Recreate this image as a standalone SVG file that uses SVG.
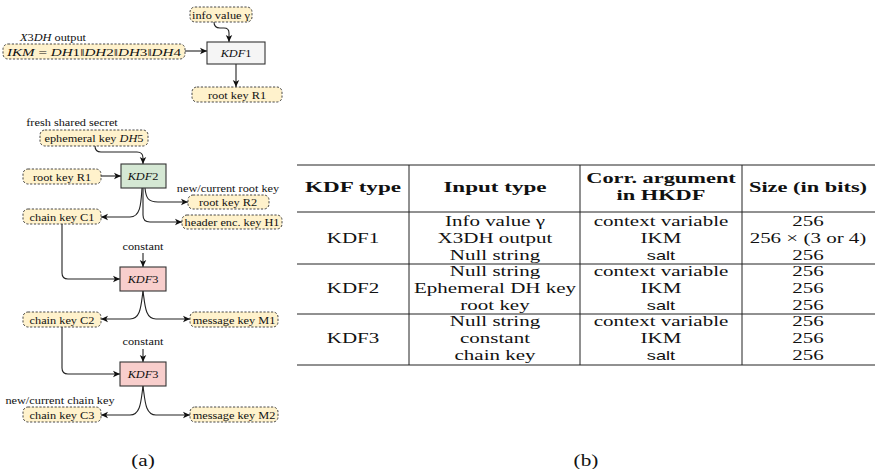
<svg xmlns="http://www.w3.org/2000/svg" width="875" height="469" viewBox="0 0 875 469">
<style>
.bg{fill:#ffffff}
.key{fill:#fff2cc;stroke:#333;stroke-width:0.9;stroke-dasharray:2.2 1.6}
.kdf{stroke:#333;stroke-width:1.1}
.k1{fill:#f5f5f5}
.k2{fill:#d5e8d4}
.k3{fill:#f8cecc}
.t{font-family:"Liberation Serif","Times New Roman",serif;font-size:11px;fill:#111;text-anchor:middle}
.tt{font-family:"Liberation Serif","Times New Roman",serif;font-size:14px;fill:#111;text-anchor:middle}
.th{font-family:"Liberation Serif","Times New Roman",serif;font-size:14px;font-weight:bold;fill:#111;text-anchor:middle}
.ss{font-family:"Liberation Sans",Arial,sans-serif;font-size:13px;fill:#111;text-anchor:middle}
.cap{font-family:"Liberation Serif","Times New Roman",serif;font-size:17px;fill:#111;text-anchor:middle}
.it{font-style:italic}
.c{fill:none;stroke:#222;stroke-width:1.1;marker-end:url(#ah)}
.rule{stroke:#222;stroke-width:1}
</style>
<defs>
<marker id="ah" markerUnits="userSpaceOnUse" markerWidth="8" markerHeight="8" refX="7" refY="4" orient="auto">
<path d="M0,0.8 L7,4 L0,7.2 L1.8,4 z" fill="#111"/>
</marker>
</defs>
<rect class="bg" x="0" y="0" width="875" height="469"/>

<g id="connectors">
<path class="c" d="M214,22 Q214,28 220,28 L224,28 Q229,28 229,33 L229,42"/>
<path class="c" d="M185,51 L207,51"/>
<path class="c" d="M236,64 L236,87"/>
<path class="c" d="M95,146 Q95,152 101,152 L137,152 Q143,152 143,158 L143,164"/>
<path class="c" d="M101,176 L121,176"/>
<path class="c" d="M142,188 C141,202 141,217 130,217 L101,217"/>
<path class="c" d="M143,188 L143,215 Q143,222 150,222 L182,222"/>
<path class="c" d="M145,188 C146,198 148,202 158,202 L188,202"/>
<path class="c" d="M62,224 L62,273 Q62,279 68,279 L120,279"/>
<path class="c" d="M143,253 L143,267"/>
<path class="c" d="M143,291 C141,305 141,319 130,319 L101,319"/>
<path class="c" d="M143,291 C145,305 145,319 156,319 L190,319"/>
<path class="c" d="M62,327 L62,368 Q62,374 68,374 L120,374"/>
<path class="c" d="M143,349 L143,362"/>
<path class="c" d="M143,386 C141,400 141,415 130,415 L101,415"/>
<path class="c" d="M143,386 C145,400 145,415 156,415 L190,415"/>
</g>

<g id="info">
<rect class="key" x="190" y="7" width="62" height="15" rx="5"/>
<text class="t" transform="translate(221,18.5) scale(1.12,1)">info value γ</text>
</g>
<g id="x3dh-label">
<text class="t" transform="translate(53,41) scale(1.12,1)"><tspan class="it">X</tspan>3<tspan class="it">DH</tspan> output</text>
</g>
<g id="ikm">
<rect class="key" x="3" y="44" width="182" height="15" rx="5"/>
<text class="t" x="94" y="55.5" textLength="174" lengthAdjust="spacingAndGlyphs"><tspan class="it">IKM</tspan> = <tspan class="it">DH</tspan>1‖<tspan class="it">DH</tspan>2‖<tspan class="it">DH</tspan>3‖<tspan class="it">DH</tspan>4</text>
</g>
<g id="kdf1">
<rect class="kdf k1" x="207" y="42" width="58" height="22"/>
<text class="t" transform="translate(236,57) scale(1.12,1)"><tspan class="it">KDF</tspan>1</text>
</g>
<g id="rootR1a">
<rect class="key" x="192" y="87" width="90" height="15" rx="5"/>
<text class="t" transform="translate(237,98.5) scale(1.12,1)">root key R1</text>
</g>

<g id="fresh-label">
<text class="t" transform="translate(72,126) scale(1.12,1)">fresh shared secret</text>
</g>
<g id="eph">
<rect class="key" x="40" y="130" width="108" height="16" rx="5"/>
<text class="t" transform="translate(94,142) scale(1.12,1)">ephemeral key <tspan class="it">DH</tspan>5</text>
</g>
<g id="rootR1b">
<rect class="key" x="23" y="169" width="78" height="15" rx="5"/>
<text class="t" transform="translate(62,180.5) scale(1.12,1)">root key R1</text>
</g>
<g id="kdf2">
<rect class="kdf k2" x="121" y="164" width="45" height="24"/>
<text class="t" transform="translate(143,180) scale(1.12,1)"><tspan class="it">KDF</tspan>2</text>
</g>
<g id="newroot-label">
<text class="t" transform="translate(228,192) scale(1.12,1)">new/current root key</text>
</g>
<g id="rootR2">
<rect class="key" x="188" y="195" width="81" height="14" rx="5"/>
<text class="t" transform="translate(228,206) scale(1.12,1)">root key R2</text>
</g>
<g id="chainC1">
<rect class="key" x="23" y="209" width="78" height="15" rx="5"/>
<text class="t" transform="translate(62,220.5) scale(1.12,1)">chain key C1</text>
</g>
<g id="headerH1">
<rect class="key" x="182" y="215" width="100" height="14" rx="5"/>
<text class="t" transform="translate(232,226) scale(1.12,1)">header enc. key H1</text>
</g>

<g id="const1">
<text class="t" transform="translate(143,250) scale(1.12,1)">constant</text>
</g>
<g id="kdf3a">
<rect class="kdf k3" x="120" y="267" width="46" height="24"/>
<text class="t" transform="translate(143,283) scale(1.12,1)"><tspan class="it">KDF</tspan>3</text>
</g>
<g id="chainC2">
<rect class="key" x="23" y="312" width="78" height="15" rx="5"/>
<text class="t" transform="translate(62,323.5) scale(1.12,1)">chain key C2</text>
</g>
<g id="msgM1">
<rect class="key" x="190" y="312" width="88" height="15" rx="5"/>
<text class="t" transform="translate(234,323.5) scale(1.12,1)">message key M1</text>
</g>

<g id="const2">
<text class="t" transform="translate(143,345) scale(1.12,1)">constant</text>
</g>
<g id="kdf3b">
<rect class="kdf k3" x="120" y="362" width="46" height="24"/>
<text class="t" transform="translate(143,378) scale(1.12,1)"><tspan class="it">KDF</tspan>3</text>
</g>
<g id="newchain-label">
<text class="t" transform="translate(60,404) scale(1.12,1)">new/current chain key</text>
</g>
<g id="chainC3">
<rect class="key" x="23" y="407" width="78" height="15" rx="5"/>
<text class="t" transform="translate(62,418.5) scale(1.12,1)">chain key C3</text>
</g>
<g id="msgM2">
<rect class="key" x="190" y="407" width="88" height="15" rx="5"/>
<text class="t" transform="translate(234,418.5) scale(1.12,1)">message key  M2</text>
</g>
<g id="cap-a">
<text class="cap" transform="translate(143,466) scale(1.25,1)">(a)</text>
</g>

<g id="table">
<line class="rule" x1="297" y1="165" x2="875" y2="165"/>
<line class="rule" x1="297" y1="212" x2="875" y2="212"/>
<line class="rule" x1="297" y1="264" x2="875" y2="264"/>
<line class="rule" x1="297" y1="314" x2="875" y2="314"/>
<line class="rule" x1="297" y1="365" x2="875" y2="365"/>
<line class="rule" x1="409" y1="165" x2="409" y2="365"/>
<line class="rule" x1="580" y1="165" x2="580" y2="365"/>
<line class="rule" x1="742" y1="165" x2="742" y2="365"/>

<text class="th" transform="translate(353,192) scale(1.65,1)">KDF type</text>
<text class="th" transform="translate(495,192) scale(1.65,1)">Input type</text>
<text class="th" transform="translate(661,183) scale(1.6,1)">Corr. argument</text>
<text class="th" transform="translate(661,200) scale(1.6,1)">in HKDF</text>
<text class="th" transform="translate(808,192) scale(1.6,1)">Size (in bits)</text>

<text class="tt" transform="translate(353,243) scale(1.5,1)">KDF1</text>
<text class="tt" transform="translate(495,226) scale(1.5,1)">Info value γ</text>
<text class="tt" transform="translate(495,243) scale(1.5,1)">X3DH output</text>
<text class="tt" transform="translate(495,260) scale(1.5,1)">Null string</text>
<text class="tt" transform="translate(661,226) scale(1.5,1)">context variable</text>
<text class="tt" transform="translate(661,243) scale(1.5,1)">IKM</text>
<text class="ss" transform="translate(661,260) scale(1.4,1)">salt</text>
<text class="tt" transform="translate(808,226) scale(1.5,1)">256</text>
<text class="tt" transform="translate(808,243) scale(1.5,1)">256 × (3 or 4)</text>
<text class="tt" transform="translate(808,260) scale(1.5,1)">256</text>

<text class="tt" transform="translate(353,293) scale(1.5,1)">KDF2</text>
<text class="tt" transform="translate(495,276) scale(1.5,1)">Null string</text>
<text class="tt" transform="translate(495,293) scale(1.5,1)">Ephemeral DH key</text>
<text class="tt" transform="translate(495,310) scale(1.5,1)">root key</text>
<text class="tt" transform="translate(661,276) scale(1.5,1)">context variable</text>
<text class="tt" transform="translate(661,293) scale(1.5,1)">IKM</text>
<text class="ss" transform="translate(661,310) scale(1.4,1)">salt</text>
<text class="tt" transform="translate(808,276) scale(1.5,1)">256</text>
<text class="tt" transform="translate(808,293) scale(1.5,1)">256</text>
<text class="tt" transform="translate(808,310) scale(1.5,1)">256</text>

<text class="tt" transform="translate(353,343) scale(1.5,1)">KDF3</text>
<text class="tt" transform="translate(495,326) scale(1.5,1)">Null string</text>
<text class="tt" transform="translate(495,343) scale(1.5,1)">constant</text>
<text class="tt" transform="translate(495,360) scale(1.5,1)">chain key</text>
<text class="tt" transform="translate(661,326) scale(1.5,1)">context variable</text>
<text class="tt" transform="translate(661,343) scale(1.5,1)">IKM</text>
<text class="ss" transform="translate(661,360) scale(1.4,1)">salt</text>
<text class="tt" transform="translate(808,326) scale(1.5,1)">256</text>
<text class="tt" transform="translate(808,343) scale(1.5,1)">256</text>
<text class="tt" transform="translate(808,360) scale(1.5,1)">256</text>
</g>
<g id="cap-b">
<text class="cap" transform="translate(586,466) scale(1.25,1)">(b)</text>
</g>
</svg>
